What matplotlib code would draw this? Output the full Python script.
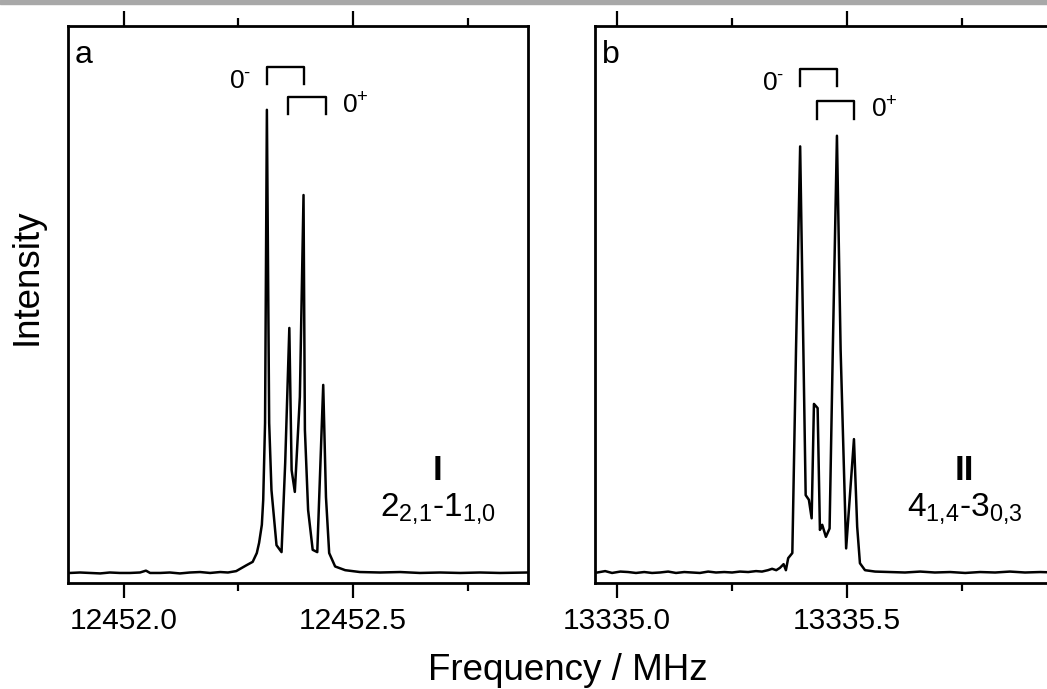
import matplotlib
matplotlib.use("Agg")
import matplotlib.pyplot as plt
from matplotlib.patches import Rectangle
from matplotlib.ticker import MultipleLocator, FormatStrFormatter

plt.rcParams['font.family'] = ['Liberation Sans', 'DejaVu Sans']
plt.rcParams['mathtext.fontset'] = 'custom'
plt.rcParams['mathtext.rm'] = 'Liberation Sans'
plt.rcParams['mathtext.it'] = 'Liberation Sans:italic'
plt.rcParams['mathtext.bf'] = 'Liberation Sans:bold'

# ---- spectrum a : 2(2,1)-1(1,0), conformer I ----
freq_a = [12451.882, 12451.904, 12451.926, 12451.948, 12451.969, 12451.991, 12452.013,
          12452.035, 12452.048, 12452.057, 12452.079, 12452.100, 12452.122, 12452.144,
          12452.166, 12452.188, 12452.210, 12452.227, 12452.245, 12452.268, 12452.281,
          12452.290, 12452.295, 12452.301, 12452.304, 12452.308, 12452.312, 12452.317,
          12452.322, 12452.333, 12452.344, 12452.352, 12452.361, 12452.366, 12452.373,
          12452.384, 12452.392, 12452.395, 12452.402, 12452.412, 12452.422, 12452.435,
          12452.441, 12452.448, 12452.461, 12452.483, 12452.515, 12452.559, 12452.603,
          12452.646, 12452.690, 12452.734, 12452.777, 12452.821, 12452.882]
int_a = [0.0, 0.1, 0.0, -0.1, 0.1, 0.0, 0.0,
         0.1, 0.5, 0.0, 0.0, 0.1, -0.1, 0.1,
         0.2, 0.0, 0.2, 0.1, 0.4, 1.7, 2.4,
         4.3, 6.5, 10.4, 15.8, 32.4, 100.0, 32.4,
         17.9, 6.0, 4.5, 23.8, 52.9, 22.2, 17.5,
         38.0, 81.6, 30.9, 13.6, 5.0, 4.5, 40.6,
         16.4, 4.3, 1.4, 0.6, 0.2, 0.1, 0.2,
         0.0, 0.1, 0.0, 0.1, 0.0, 0.1]

# ---- spectrum b : 4(1,4)-3(0,3), conformer II ----
freq_b = [13334.957, 13334.974, 13334.989, 13335.007, 13335.024, 13335.041, 13335.059,
          13335.076, 13335.093, 13335.111, 13335.128, 13335.146, 13335.163, 13335.180,
          13335.198, 13335.215, 13335.233, 13335.250, 13335.267, 13335.285, 13335.302,
          13335.315, 13335.328, 13335.337, 13335.346, 13335.354, 13335.362, 13335.367,
          13335.372, 13335.381, 13335.389, 13335.398, 13335.405, 13335.410, 13335.417,
          13335.423, 13335.428, 13335.436, 13335.441, 13335.446, 13335.454, 13335.462,
          13335.469, 13335.478, 13335.486, 13335.498, 13335.515, 13335.522, 13335.528,
          13335.539, 13335.561, 13335.593, 13335.626, 13335.659, 13335.691, 13335.724,
          13335.757, 13335.789, 13335.822, 13335.854, 13335.887, 13335.920, 13335.954]
int_b = [0.1, 0.4, 0.0, 0.3, 0.2, 0.0, 0.2,
         0.0, 0.1, 0.3, 0.0, 0.2, 0.1, 0.0,
         0.3, 0.1, 0.2, 0.1, 0.3, 0.2, 0.4,
         0.3, 0.6, 0.9, 0.6, 1.1, 1.9, 0.6,
         3.2, 4.3, 48.2, 92.1, 48.2, 16.8, 15.8,
         11.8, 36.5, 35.6, 9.3, 10.4, 7.8, 9.6,
         48.2, 94.4, 48.2, 5.3, 28.9, 10.0, 2.1,
         0.6, 0.3, 0.2, 0.1, 0.3, 0.1, 0.2,
         0.0, 0.2, 0.1, 0.3, 0.1, 0.2, 0.1]

# doublet brackets: (left peak, right peak, height)
brackets_a = [(12452.312, 12452.392, 109.3), (12452.358, 12452.441, 102.8)]
brackets_b = [(13335.398, 13335.478, 108.9), (13335.434, 13335.516, 101.8)]

fig = plt.figure(figsize=(10.47, 6.89), dpi=100)
fig.patches.append(Rectangle((0, 1 - 3.5 / 689), 1, 3.5 / 689, transform=fig.transFigure,
                             color='#a8a8a8', zorder=0))

ax_a = fig.add_axes([0.0646, 0.1543, 0.4401, 0.808])
ax_b = fig.add_axes([0.5679, 0.1543, 0.4401, 0.808])

panels = [
    (ax_a, freq_a, int_a, (12451.877, 12452.883), brackets_a, 'a', 'I',
     r'$\mathregular{2_{2{,}1}\text{-}1_{1{,}0}}$', 12452.685),
    (ax_b, freq_b, int_b, (13334.951, 13335.953), brackets_b, 'b', 'II',
     r'$\mathregular{4_{1{,}4}\text{-}3_{0{,}3}}$', 13335.755),
]

for ax, fx, iy, xl, brk, letter, conf, trans, xtxt in panels:
    ax.plot(fx, iy, color='black', lw=1.8)
    ax.set_xlim(*xl)
    ax.set_ylim(-2.1, 118.1)
    ax.xaxis.set_major_locator(MultipleLocator(0.5))
    ax.xaxis.set_minor_locator(MultipleLocator(0.25))
    ax.xaxis.set_major_formatter(FormatStrFormatter('%.1f'))
    ax.tick_params(axis='x', which='both', direction='out', top=True, bottom=True,
                   labeltop=False, width=1.6, labelsize=21.5, pad=7)
    ax.tick_params(axis='x', which='major', length=10.8)
    ax.tick_params(axis='x', which='minor', length=5.8)
    ax.set_yticks([])
    for s in ax.spines.values():
        s.set_linewidth(2.0)

    # 0- / 0+ doublet brackets
    leg = 3.7
    for (x1, x2, h) in brk:
        ax.plot([x1, x1, x2, x2], [h - leg, h, h, h - leg], color='black', lw=1.7)
    (l1, r1, h1), (l2, r2, h2) = brk
    ax.text(l1 - 0.035, h1 - 4.6, r'$\mathregular{0^{\text{-}}}$', ha='right', va='baseline', fontsize=19)
    ax.text(r2 + 0.036, h2 - 3.5, r'$\mathregular{0^{+}}$', ha='left', va='baseline', fontsize=19)

    ax.text(0.016, 0.933, letter, transform=ax.transAxes, ha='left', va='baseline', fontsize=23)
    ax.text(xtxt, 20.0, conf, ha='center', va='baseline', fontsize=25, fontweight='bold')
    ax.text(xtxt, 12.3, trans, ha='center', va='baseline', fontsize=24)

fig.text(0.5427, 0.013, 'Frequency / MHz', ha='center', va='baseline', fontsize=26.5)
fig.text(0.009, 0.598, 'Intensity', ha='left', va='center', rotation=90, fontsize=26.5)

fig.savefig('out.png', dpi=100)
